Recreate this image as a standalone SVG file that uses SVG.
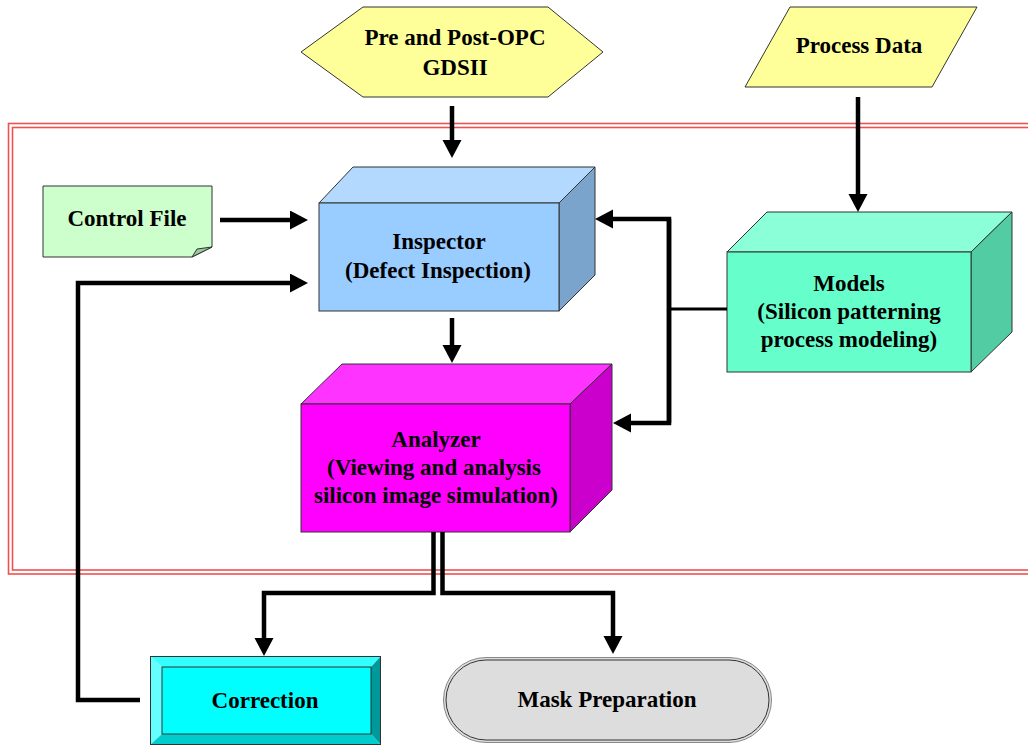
<svg xmlns="http://www.w3.org/2000/svg" width="1028" height="746" viewBox="0 0 1028 746">
  <style>
    .t { font-family: "Liberation Serif", "Tinos", "Times New Roman", "DejaVu Serif", serif; font-weight: 700; font-size: 23px; fill: #000; text-anchor: middle; }
    .edge { stroke: #333; stroke-width: 1; }
    .con { fill: none; stroke: #000; stroke-width: 4.5; stroke-linejoin: miter; }
    .red { fill: none; stroke: #f05050; stroke-width: 1.6; }
  </style>
  <defs>
    <marker id="ah" markerUnits="userSpaceOnUse" markerWidth="20" markerHeight="20" refX="8" refY="9.5" orient="auto">
      <path d="M0,0 L18,9.5 L0,19 z" fill="#000"/>
    </marker>
  </defs>
  <rect width="1028" height="746" fill="#fff"/>

  <g id="frame">
    <rect class="red" x="8.5" y="123.5" width="1030" height="450.5"/>
    <rect class="red" x="12.5" y="127.5" width="1030" height="442.5"/>
  </g>

  <g id="gdsii">
    <polygon class="edge" points="301,52 363,7 548,7 603,52 548,97 363,97" fill="#ffff99"/>
    <text class="t" font-family="Liberation Serif, serif" x="455" y="45">Pre and Post-OPC</text>
    <text class="t" x="455" y="75">GDSII</text>
  </g>

  <g id="process-data">
    <polygon class="edge" points="790,7 977,7 932,87 745,87" fill="#ffff99"/>
    <text class="t" x="859" y="53">Process Data</text>
  </g>

  <g id="control-file">
    <polygon class="edge" points="43,186 212,186 212,247 192,257 43,257" fill="#ccffcc"/>
    <polygon class="edge" points="192,257 197,249 212,247" fill="#99cc99"/>
    <text class="t" x="127" y="226">Control File</text>
  </g>

  <g id="inspector">
    <polygon class="edge" points="319,203 353,167 595,167 559,203" fill="#b3d9ff"/>
    <polygon class="edge" points="559,203 595,167 595,275 559,311" fill="#7aa4cc"/>
    <rect class="edge" x="319" y="203" width="240" height="108" fill="#99ccff"/>
    <text class="t" x="439" y="249">Inspector</text>
    <text class="t" x="438" y="278">(Defect Inspection)</text>
  </g>

  <g id="models">
    <polygon class="edge" points="727,252 767,212 1012,212 971,252" fill="#8affd8"/>
    <polygon class="edge" points="971,252 1012,212 1012,332 971,372" fill="#52cca3"/>
    <rect class="edge" x="727" y="252" width="244" height="120" fill="#66ffcc"/>
    <text class="t" x="849" y="291">Models</text>
    <text class="t" x="849" y="319">(Silicon patterning</text>
    <text class="t" x="849" y="347">process modeling)</text>
  </g>

  <g id="analyzer">
    <polygon class="edge" points="301,404 342,364 612,364 570,404" fill="#ff33ff"/>
    <polygon class="edge" points="570,404 612,364 612,490 570,532" fill="#cc00cc"/>
    <rect class="edge" x="301" y="404" width="269" height="128" fill="#ff00ff"/>
    <text class="t" x="436" y="447">Analyzer</text>
    <text class="t" x="434" y="475">(Viewing and analysis</text>
    <text class="t" x="436" y="503">silicon image simulation)</text>
  </g>

  <g id="correction">
    <polygon points="150,656 381,656 371,667 162,667" fill="#33ffff"/>
    <polygon points="150,656 162,667 162,734 150,745" fill="#66ffff"/>
    <polygon points="381,656 381,745 371,734 371,667" fill="#009999"/>
    <polygon points="150,745 162,734 371,734 381,745" fill="#00cccc"/>
    <rect class="edge" x="150.5" y="656.5" width="230" height="88" fill="none"/>
    <rect class="edge" x="162" y="667" width="209" height="67" fill="#00ffff"/>
    <text class="t" x="265" y="708">Correction</text>
  </g>

  <g id="mask-preparation">
    <rect x="443.5" y="657.5" width="328" height="85" rx="42.5" ry="42.5" fill="#dddddd" stroke="#888" stroke-width="1"/>
    <rect x="446" y="660" width="323" height="80" rx="40" ry="40" fill="none" stroke="#333" stroke-width="1"/>
    <text class="t" x="607" y="707">Mask Preparation</text>
  </g>

  <g id="connectors">
    <path class="con" d="M452,106 V148" marker-end="url(#ah)"/>
    <path class="con" d="M858,97 V202" marker-end="url(#ah)"/>
    <path class="con" d="M220,220 H298" marker-end="url(#ah)"/>
    <path class="con" d="M140,700 H78 V283 H298" marker-end="url(#ah)"/>
    <path class="con" d="M727,309 H669" style="stroke-width:3"/>
    <path class="con" d="M669,423 V219 H605" marker-end="url(#ah)"/>
    <path class="con" d="M669,219 V423 H623" marker-end="url(#ah)"/>
    <path class="con" d="M452,318 V353" marker-end="url(#ah)"/>
    <path class="con" d="M433.5,532 V593 H264 V646" marker-end="url(#ah)"/>
    <path class="con" d="M442.5,532 V593 H613 V644" marker-end="url(#ah)"/>
  </g>
</svg>
